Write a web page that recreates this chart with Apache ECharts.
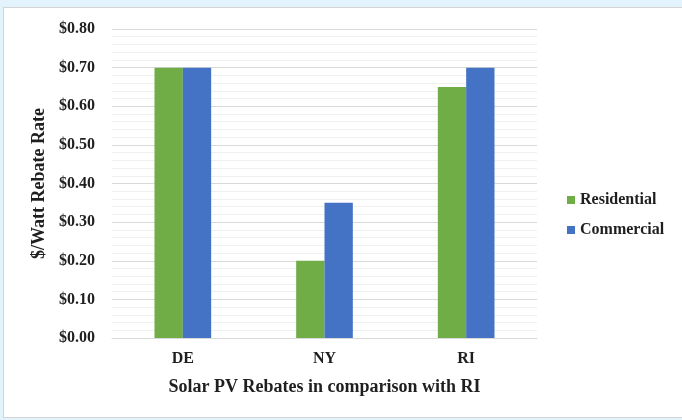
<!DOCTYPE html>
<html>
<head>
<meta charset="utf-8">
<script src="https://cdn.jsdelivr.net/npm/echarts@6/dist/echarts.min.js"></script>
<style>
  html, body { margin: 0; padding: 0; }
  body { width: 682px; height: 420px; background: #e2f3fd; position: relative; overflow: hidden; }
  .panel { position: absolute; left: 3px; top: 7px; width: 680px; height: 409px; background: #fff; border: 1px solid #d4d4d4; }
  #chart { position: absolute; left: 0; top: 0; width: 682px; height: 420px; }
</style>
</head>
<body>
<div class="panel"></div>
<div id="chart"></div>
<script>
const states = ['DE', 'NY', 'RI']
const residential = [0.70, 0.20, 0.65]
const commercial = [0.70, 0.35, 0.70]

const font = '"Liberation Serif", "Times New Roman", serif'
const textColor = '#1f1f1f'

const chart = echarts.init(document.getElementById('chart'), null, { renderer: 'canvas' })

const option = {
  backgroundColor: 'transparent',
  animation: false,
  grid: { left: 112, right: 145, top: 29, bottom: 82 },
  legend: {
    orient: 'vertical',
    left: 562,
    top: 187,
    itemWidth: 8,
    itemHeight: 8,
    itemGap: 14,
    icon: 'rect',
    textStyle: { fontFamily: font, fontWeight: 'bold', fontSize: 16, color: textColor },
    data: ['Residential', 'Commercial']
  },
  xAxis: {
    type: 'category',
    data: states,
    name: 'Solar PV Rebates in comparison with RI',
    nameLocation: 'middle',
    nameGap: 40,
    nameTextStyle: { fontFamily: font, fontWeight: 'bold', fontSize: 18, color: textColor },
    axisLine: { lineStyle: { color: '#d9d9d9', width: 1 } },
    axisTick: { show: false },
    axisLabel: { fontFamily: font, fontWeight: 'bold', fontSize: 16, color: textColor, margin: 13 }
  },
  yAxis: {
    type: 'value',
    min: 0,
    max: 0.8,
    interval: 0.1,
    name: '$/Watt Rebate Rate',
    nameLocation: 'middle',
    nameGap: 64,
    nameRotate: 90,
    nameTextStyle: { fontFamily: font, fontWeight: 'bold', fontSize: 18, color: textColor },
    axisLine: { show: false },
    axisTick: { show: false },
    axisLabel: {
      fontFamily: font, fontWeight: 'bold', fontSize: 16, color: textColor, margin: 17,
      formatter: v => '$' + v.toFixed(2)
    },
    splitLine: { lineStyle: { color: '#d9d9d9', width: 1 } },
    minorTick: { show: false, splitNumber: 5 },
    minorSplitLine: { show: true, lineStyle: { color: '#f0f0f0', width: 1 } }
  },
  series: [
    {
      name: 'Residential', type: 'bar', data: residential,
      barGap: '0%', barCategoryGap: '60%',
      itemStyle: { color: '#70ad47' }
    },
    {
      name: 'Commercial', type: 'bar', data: commercial,
      barGap: '0%', barCategoryGap: '60%',
      itemStyle: { color: '#4472c4' }
    }
  ]
}

chart.setOption(option)
window.addEventListener('resize', () => chart.resize())
</script>
</body>
</html>
